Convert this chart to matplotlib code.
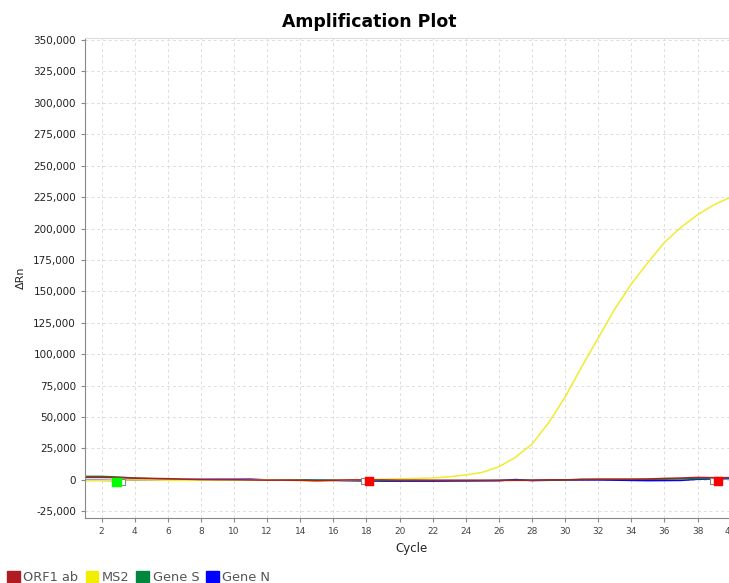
import matplotlib.pyplot as plt
from matplotlib.patches import Patch

cycles = list(range(1, 41))

orf1ab = [2000, 2000, 1800, 1400, 1200, 1000, 600, 300, 200, 200,
          0, -200, -200, -300, -700, -300, 0, 0, 0, -200,
          -200, -300, -300, -300, -300, -300, -300, -300, 0, 0,
          300, 500, 500, 500, 700, 1200, 1500, 2000, 1800, 1800]
ms2 = [-500, -500, -300, 0, 0, -300, -400, -300, -200, 0,
       0, -100, -300, -500, -1000, -500, 0, 300, 600, 900,
       1200, 1600, 2500, 4000, 6000, 10500, 18000, 28500, 45500, 66000,
       90000, 113000, 136000, 156000, 173000, 189000, 201000, 211000, 219000, 225000]
gene_s = [2800, 2800, 2300, 1500, 1000, 600, 300, 200, 100, 0,
          0, 0, 0, 0, -200, -300, -400, -500, -500, -500,
          -500, -500, -500, -500, -500, -400, -300, -300, -200, 0,
          500, 500, 500, 500, 500, 600, 800, 1000, 1300, 1500]
gene_n = [-300, -300, -500, 0, 200, 200, 300, 400, 500, 500,
          600, 0, -100, -200, -300, -400, -600, -800, -1000, -1000,
          -1000, -1000, -900, -800, -700, -600, 300, -500, -300, 0,
          0, 0, -200, -400, -600, -500, -400, 500, 800, 1000]

series_names = ['ORF1 ab', 'MS2', 'Gene S', 'Gene N']
series_colors = ['#b01c22', '#f0ec30', '#00873e', '#0000ff']
legend_colors = ['#b01c22', '#f2ee00', '#00873e', '#0000ff']

# threshold markers
filled_x = [2.9, 18.15, 39.25]
filled_y = [-1500, -1000, -1000]
filled_c = ['#00ff00', '#ff0000', '#ff0000']
open_x = [3.25, 17.85, 38.95]
open_y = [-1500, -1000, -1000]

fig = plt.figure(figsize=(7.29, 5.83), dpi=100)
ax = fig.add_axes([85 / 729, 65 / 583, 654 / 729, 480 / 583])

ax.plot(cycles, gene_n, color=series_colors[3], lw=1.1)
ax.plot(cycles, gene_s, color=series_colors[2], lw=1.1)
ax.plot(cycles, ms2, color=series_colors[1], lw=1.1)
ax.plot(cycles, orf1ab, color=series_colors[0], lw=1.1)

ax.scatter(open_x, open_y, marker='s', s=22, facecolor='white',
           edgecolor='#888888', linewidth=0.8, zorder=4)
ax.scatter(filled_x, filled_y, marker='s', s=34, color=filled_c, zorder=5)

ax.set_xlim(1, 40.5)
ax.set_ylim(-30300, 351600)
ax.set_xticks(range(2, 41, 2))
ax.set_yticks(range(-25000, 350001, 25000))
ax.set_yticklabels([f'{v:,}' for v in range(-25000, 350001, 25000)])
ax.tick_params(axis='y', labelsize=7.5, length=3, color='#888888', labelcolor='#222222')
ax.tick_params(axis='x', labelsize=6.5, length=3, color='#888888', labelcolor='#444444')
ax.grid(True, color='#dddddd', linestyle=(0, (3, 3)), linewidth=0.7)
ax.set_axisbelow(True)
for side in ['left', 'bottom']:
    ax.spines[side].set_color('#888888')
ax.spines['top'].set_color('#dddddd')
ax.spines['right'].set_visible(False)

ax.set_xlabel('Cycle', fontsize=8.5, color='#222222', labelpad=4)
ax.set_ylabel('ΔRn', fontsize=8, color='#222222', labelpad=5)

fig.text(369 / 729, 1 - 22 / 583, 'Amplification Plot', ha='center', va='center',
         fontsize=12.4, fontweight='bold')

handles = [Patch(facecolor=c, edgecolor=c) for c in legend_colors]
fig.legend(handles, series_names, loc='lower left', bbox_to_anchor=(-0.006, -0.022),
           ncol=4, frameon=False, handlelength=0.95, handleheight=0.95,
           handletextpad=0.3, columnspacing=0.55, fontsize=9.3,
           labelcolor='#555555')

fig.savefig('out.png', dpi=100)
